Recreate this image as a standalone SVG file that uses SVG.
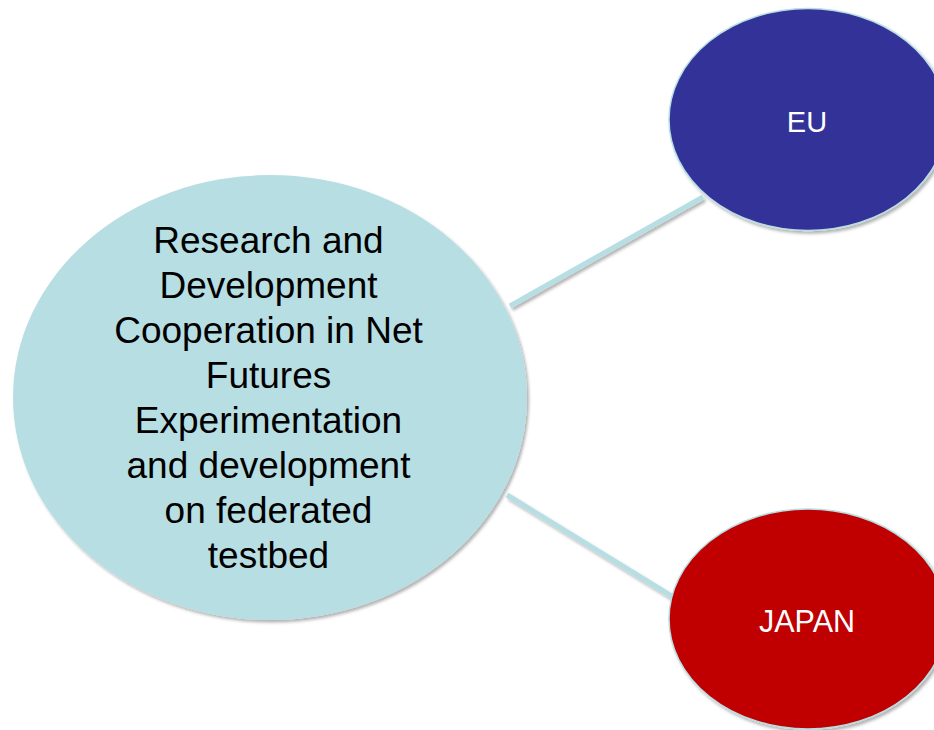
<svg xmlns="http://www.w3.org/2000/svg" width="934" height="730" viewBox="0 0 934 730">
  <style>
    .label { font-family: "Liberation Sans", Arial, sans-serif; text-anchor: middle; }
    .main-text { font-size: 37px; fill: #000000; }
    .side-text { fill: #ffffff; }
    .link { stroke: #b7dee3; stroke-width: 5; stroke-linecap: butt; fill: none; }
  </style>
  <defs>
    <filter id="soft-shadow" x="-10%" y="-10%" width="120%" height="120%">
      <feDropShadow dx="2" dy="2.5" stdDeviation="1.8" flood-color="#000000" flood-opacity="0.3"/>
    </filter>
  </defs>
  <rect width="934" height="730" fill="#ffffff"/>

  <g id="connectors" filter="url(#soft-shadow)">
    <line class="link" x1="510" y1="306" x2="703" y2="197"/>
    <line class="link" x1="507" y1="495" x2="673" y2="597"/>
  </g>

  <g id="node-cooperation">
    <ellipse cx="270" cy="397.5" rx="257" ry="222.5" fill="#b7dee3" filter="url(#soft-shadow)"/>
    <g class="label main-text">
      <text x="268.5" y="253">Research and</text>
      <text x="268.5" y="298">Development</text>
      <text x="268.5" y="343">Cooperation in Net</text>
      <text x="268.5" y="388">Futures</text>
      <text x="268.5" y="433">Experimentation</text>
      <text x="268.5" y="478">and development</text>
      <text x="268.5" y="523">on federated</text>
      <text x="268.5" y="568">testbed</text>
    </g>
  </g>

  <g id="node-eu">
    <ellipse cx="808" cy="119.5" rx="139" ry="111" fill="#333399" stroke="#b7dee3" stroke-width="1.5" filter="url(#soft-shadow)"/>
    <text class="label side-text" x="807" y="131.5" font-size="29">EU</text>
  </g>

  <g id="node-japan">
    <ellipse cx="808" cy="619" rx="139" ry="110" fill="#c00000" stroke="#b7dee3" stroke-width="1.5" filter="url(#soft-shadow)"/>
    <text class="label side-text" x="807" y="631.5" font-size="30.5">JAPAN</text>
  </g>
</svg>
